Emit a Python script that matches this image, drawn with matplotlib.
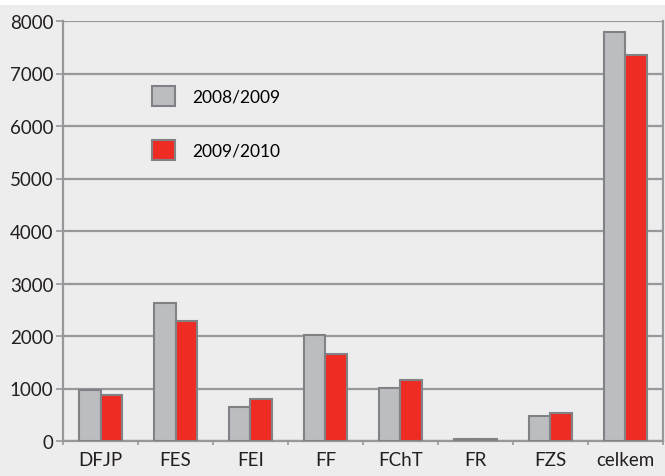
import matplotlib.pyplot as plt
import numpy as np
from matplotlib.patches import Rectangle

# data
categories = ['DFJP', 'FES', 'FEI', 'FF', 'FChT', 'FR', 'FZS', 'celkem']
y2008 = [980, 2630, 650, 2020, 1010, 40, 480, 7790]
y2010 = [870, 2290, 800, 1660, 1160, 30, 530, 7350]
labels = ['2008/2009', '2009/2010']

plt.rcParams['font.family'] = ['Lato', 'DejaVu Sans']

bg = '#ededed'
edge = '#808285'
grey = '#bcbdc0'
red = '#ee2c24'

fig = plt.figure(figsize=(6.65, 4.77), dpi=100, facecolor=bg)
fig.patches.append(Rectangle((0, 1 - 6 / 477), 1, 6 / 477, transform=fig.transFigure,
                             facecolor='white', edgecolor='none', zorder=0))
ax = fig.add_axes([63 / 665, 1 - 442 / 477, 600 / 665, 420 / 477])
ax.set_facecolor(bg)

x = np.arange(len(categories))
w = 0.285
ax.bar(x - w / 2, y2008, w, color=grey, edgecolor=edge, linewidth=1.5, label=labels[0], zorder=3)
ax.bar(x + w / 2, y2010, w, color=red, edgecolor=edge, linewidth=1.5, label=labels[1], zorder=3)

ax.set_xlim(-0.5, len(categories) - 0.5)
ax.set_ylim(0, 8000)
ax.set_yticks(range(0, 8001, 1000))
ax.set_xticks(x)
ax.set_xticklabels(categories)
ax.set_xticks(np.arange(-0.5, len(categories), 1), minor=True)
ax.yaxis.grid(True, color='#97989b', linewidth=1.6, zorder=0)

ax.spines['top'].set_visible(False)
for s in ['left', 'bottom', 'right']:
    ax.spines[s].set_color('#97989b')
    ax.spines[s].set_linewidth(1.6)

ax.tick_params(axis='y', length=5, width=1.2, color='#97989b', labelsize=13.5,
               labelcolor='#231f20', pad=2)
ax.tick_params(axis='x', which='major', length=0, labelsize=13.5, labelcolor='#231f20', pad=7)
ax.tick_params(axis='x', which='minor', length=3, width=1.2, color='#97989b', direction='out')

ax.legend(loc='upper left', bbox_to_anchor=(0.148, 0.845), frameon=False, fontsize=12.5,
          handlelength=1.35, handleheight=1.35, labelspacing=2.0, handletextpad=0.95,
          borderpad=0, borderaxespad=0)

fig.savefig('out.png', dpi=100, facecolor=bg)
